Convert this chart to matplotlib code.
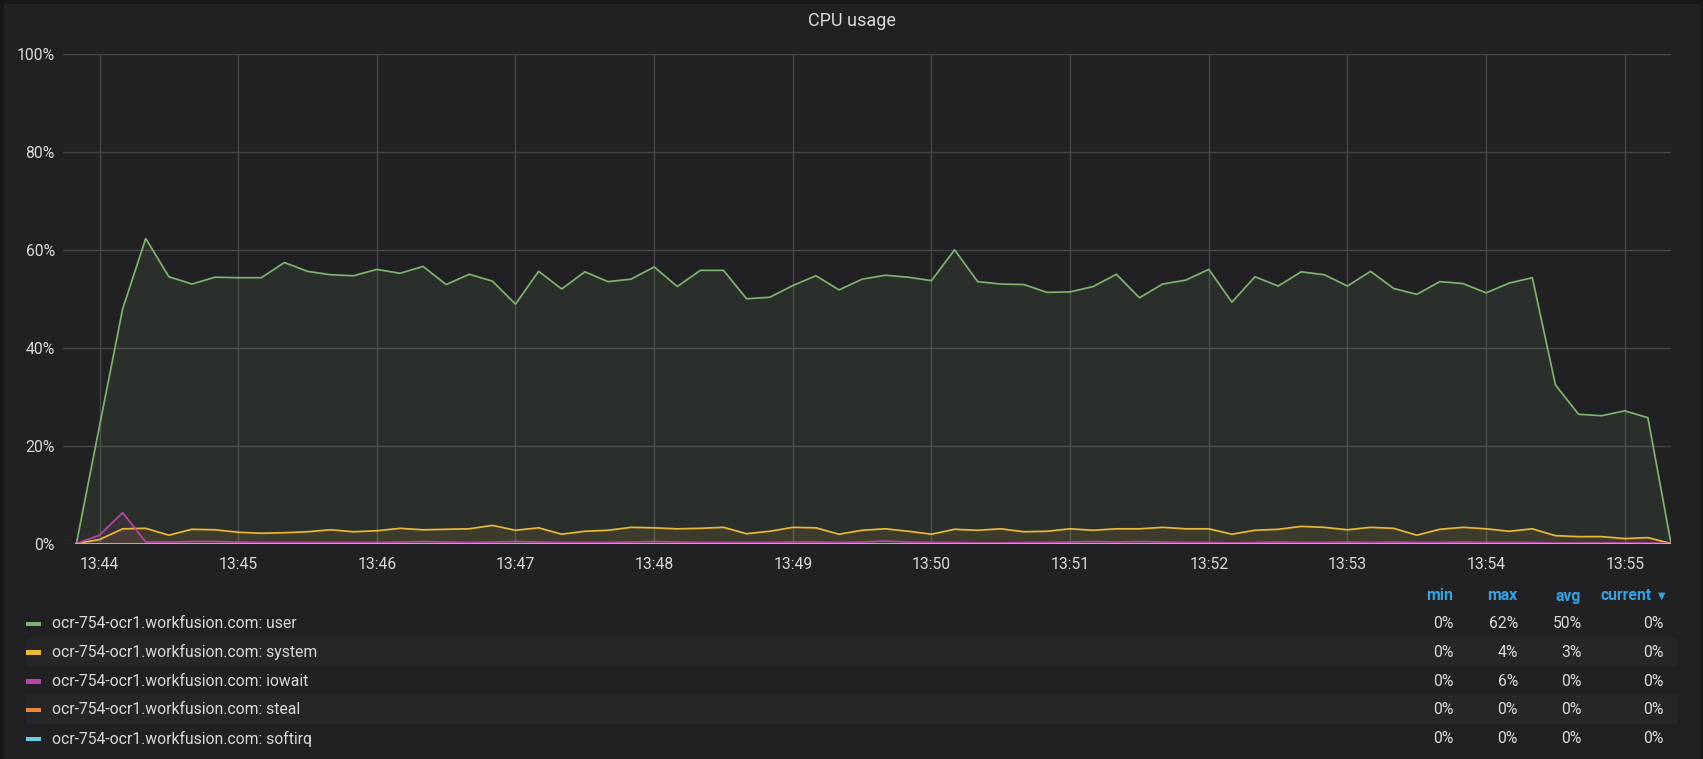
import pandas as pd
import matplotlib.pyplot as plt
import matplotlib.dates as mdates
from matplotlib.patches import Rectangle

plt.rcParams['font.family'] = ['Roboto', 'DejaVu Sans']

# CPU usage, one sample every 10 s from 13:43:50
times = pd.date_range("2019-01-01 13:43:50", periods=70, freq="10s")

user = [0, 24.0, 47.9, 62.3, 54.5, 53.0, 54.4, 54.3, 54.3, 57.4,
        55.6, 54.9, 54.7, 56.0, 55.2, 56.6, 52.9, 55.0, 53.6, 48.9,
        55.6, 52.0, 55.5, 53.5, 54.0, 56.5, 52.5, 55.8, 55.8, 50.0,
        50.3, 52.7, 54.7, 51.8, 54.0, 54.8, 54.4, 53.7, 60.0, 53.5,
        53.0, 52.9, 51.3, 51.4, 52.5, 55.0, 50.2, 53.0, 53.8, 56.0,
        49.3, 54.5, 52.6, 55.5, 54.9, 52.6, 55.6, 52.1, 50.9, 53.5,
        53.1, 51.2, 53.2, 54.3, 32.4, 26.4, 26.1, 27.1, 25.7, 0]
system = [0, 0.8, 3.0, 3.1, 1.7, 2.9, 2.8, 2.3, 2.1, 2.2,
          2.4, 2.8, 2.4, 2.6, 3.1, 2.8, 2.9, 3.0, 3.7, 2.7,
          3.2, 1.9, 2.5, 2.7, 3.3, 3.2, 3.0, 3.1, 3.3, 2.0,
          2.5, 3.3, 3.2, 1.9, 2.7, 3.0, 2.5, 1.9, 2.9, 2.7,
          3.0, 2.4, 2.5, 3.0, 2.7, 3.0, 3.0, 3.3, 3.0, 3.0,
          1.9, 2.7, 2.9, 3.5, 3.3, 2.8, 3.3, 3.1, 1.7, 2.9,
          3.3, 3.0, 2.5, 3.0, 1.6, 1.4, 1.4, 1.0, 1.2, 0]
iowait = [0, 1.7, 6.3, 0.3, 0.3, 0.4, 0.4, 0.3, 0.2, 0.2,
          0.2, 0.2, 0.2, 0.2, 0.3, 0.4, 0.3, 0.2, 0.3, 0.4,
          0.3, 0.2, 0.2, 0.2, 0.3, 0.4, 0.3, 0.2, 0.2, 0.2,
          0.2, 0.3, 0.3, 0.2, 0.3, 0.5, 0.3, 0.2, 0.2, 0.1,
          0.1, 0.2, 0.2, 0.3, 0.4, 0.3, 0.4, 0.3, 0.2, 0.2,
          0.1, 0.2, 0.3, 0.2, 0.2, 0.3, 0.2, 0.3, 0.2, 0.2,
          0.3, 0.2, 0.2, 0.2, 0.1, 0.1, 0.1, 0.1, 0.1, 0]
steal = [0, 0, 0, 0, 0, 0, 0, 0, 0, 0,
         0, 0, 0, 0, 0, 0, 0, 0, 0, 0,
         0, 0, 0, 0, 0, 0, 0, 0, 0, 0,
         0, 0, 0, 0, 0, 0, 0, 0, 0, 0,
         0, 0, 0, 0, 0, 0, 0, 0, 0, 0,
         0, 0, 0, 0, 0, 0, 0, 0, 0, 0,
         0, 0, 0, 0, 0, 0, 0, 0, 0, 0]
softirq = [0, 0, 0, 0, 0, 0, 0, 0, 0, 0,
           0, 0, 0, 0, 0, 0, 0, 0, 0, 0,
           0, 0, 0, 0, 0, 0, 0, 0, 0, 0,
           0, 0, 0, 0, 0, 0, 0, 0, 0, 0,
           0, 0, 0, 0, 0, 0, 0, 0, 0, 0,
           0, 0, 0, 0, 0, 0, 0, 0, 0, 0,
           0, 0, 0, 0, 0, 0, 0, 0, 0, 0]

host = "ocr-754-ocr1.workfusion.com"
series_names = ["user", "system", "iowait", "steal", "softirq"]
series_colors = ["#7eb26d", "#eab839", "#ba43a9", "#ef843c", "#6ed0e0"]
stat_min = ["0%", "0%", "0%", "0%", "0%"]
stat_max = ["62%", "4%", "6%", "0%", "0%"]
stat_avg = ["50%", "3%", "0%", "0%", "0%"]
stat_cur = ["0%", "0%", "0%", "0%", "0%"]

W, H = 1703, 759
BG = "#161719"
PANEL = "#212124"
TXT = "#d8d9da"
BLUE = "#33a2e5"
FS = 11.3

fig = plt.figure(figsize=(W / 100, H / 100), dpi=100, facecolor=BG)

def fx(px):
    return px / W

def fy(py):
    return 1 - py / H

# panel background
fig.patches.append(Rectangle((fx(4), 0), fx(W - 6), fy(3.5), transform=fig.transFigure,
                             facecolor=PANEL, edgecolor="none", zorder=-10))

fig.text(fx(851.5), fy(21), "CPU usage", color=TXT, fontsize=13,
         ha="center", va="center")

ax = fig.add_axes([fx(63), fy(543.5), fx(1671 - 63), (543.5 - 54) / H])
ax.set_zorder(5)
ax.set_facecolor(PANEL)

all_series = [user, system, iowait, steal, softirq]
for vals, col in zip(all_series, series_colors):
    ax.fill_between(times, vals, 0, color=col, alpha=0.1, linewidth=0)
    ax.plot(times, vals, color=col, linewidth=1.25)

ax.set_ylim(0, 100)
ax.set_yticks([0, 20, 40, 60, 80, 100])
ax.set_yticklabels(["0%", "20%", "40%", "60%", "80%", "100%"])
ax.set_xlim(pd.Timestamp("2019-01-01 13:43:44.2"), pd.Timestamp("2019-01-01 13:55:20"))
ax.xaxis.set_major_locator(mdates.MinuteLocator())
ax.xaxis.set_major_formatter(mdates.DateFormatter("%H:%M"))

ax.grid(True, color="#464649", linewidth=1)
ax.set_axisbelow(True)
for s in ax.spines.values():
    s.set_visible(False)
ax.tick_params(axis="both", length=0, colors=TXT, labelsize=FS)
ax.tick_params(axis="y", pad=6)
ax.tick_params(axis="x", pad=10)

# legend table
hdr_y = 596
fig.text(fx(1453), fy(hdr_y), "min", color=BLUE, fontsize=FS, fontweight="bold",
         ha="right", va="center")
fig.text(fx(1517), fy(hdr_y), "max", color=BLUE, fontsize=FS, fontweight="bold",
         ha="right", va="center")
fig.text(fx(1581), fy(hdr_y), "avg", color=BLUE, fontsize=FS, fontweight="bold",
         ha="right", va="center")
fig.text(fx(1652), fy(hdr_y), "current", color=BLUE, fontsize=FS, fontweight="bold",
         ha="right", va="center")
fig.text(fx(1665), fy(hdr_y), "\u25bc", color=BLUE, fontsize=7,
         ha="right", va="center", family="DejaVu Sans")

row_h = 28.7
for i, name in enumerate(series_names):
    yc = 623.7 + i * row_h
    if i % 2 == 1:
        fig.patches.append(Rectangle((fx(26), fy(yc + row_h / 2)), fx(1678 - 26), row_h / H,
                                     transform=fig.transFigure, facecolor="#262628",
                                     edgecolor="none", zorder=1))
    fig.patches.append(Rectangle((fx(26), fy(yc + 2.5)), fx(15), 4.5 / H,
                                 transform=fig.transFigure, facecolor=series_colors[i],
                                 edgecolor="none", zorder=2))
    fig.text(fx(52), fy(yc), host + ": " + name, color=TXT, fontsize=FS,
             ha="left", va="center")
    fig.text(fx(1454), fy(yc), stat_min[i], color=TXT, fontsize=FS, ha="right", va="center")
    fig.text(fx(1518), fy(yc), stat_max[i], color=TXT, fontsize=FS, ha="right", va="center")
    fig.text(fx(1582), fy(yc), stat_avg[i], color=TXT, fontsize=FS, ha="right", va="center")
    fig.text(fx(1664), fy(yc), stat_cur[i], color=TXT, fontsize=FS, ha="right", va="center")

fig.savefig("out.png", dpi=100, facecolor=BG)
